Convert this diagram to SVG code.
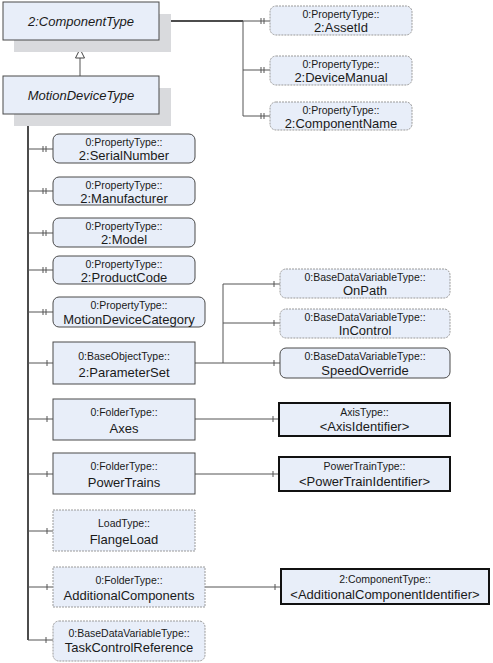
<svg xmlns="http://www.w3.org/2000/svg" width="493" height="663" viewBox="0 0 493 663">
<style>
text{font-family:"Liberation Sans",Arial,sans-serif;fill:#1a1a1a;text-anchor:middle}
.s{font-size:10.5px}
.l{font-size:13px}
.h{font-size:13px;font-style:italic}
.fill{fill:#e8eef9}
.dash{fill:#e8eef9;stroke:#9a9a9a;stroke-width:1;stroke-dasharray:2,1}
.solid{fill:#e8eef9;stroke:#4a4a4a;stroke-width:1}
.thick{fill:#e8eef9;stroke:#111;stroke-width:2}
.shadow{fill:#d9dadd}
.trunk{stroke:#111;stroke-width:1.5;fill:none}
.br{stroke:#555;stroke-width:1;fill:none}
.tk{stroke:#555;stroke-width:1}
</style>
<g id="connectors">
<path class="trunk" d="M28 114V640"/>
<path class="trunk" d="M159 21H243"/>
<path class="br" d="M243 21V116"/>
<path class="br" d="M243 21H270M243 70H270M243 116H270"/>
<path class="tk" d="M261 18v6M264 18v6M261 67v6M264 67v6M261 113v6M264 113v6"/>
<path class="br" d="M80 76V58"/>
<path d="M80 40L75.5 48H84.5Z M80 49L75.5 58H84.5Z" fill="#fff" stroke="#444" stroke-width="1"/>
<path class="br" d="M28 149H53M28 191H53M28 233H53M28 270H53M28 312H53M28 363H53M28 419H53M28 474H53M28 531H53M28 587H53M28 640H53"/>
<path class="tk" d="M43 146v6M46 146v6M43 188v6M46 188v6M43 230v6M46 230v6M43 267v6M46 267v6M43 309v6M46 309v6"/>
<path class="tk" d="M47 360v6M47 416v6M47 471v6M47 528v6M47 584v6M46 637v6"/>
<path class="br" d="M195 363H280M223 363V284H280M223 323H280"/>
<path class="tk" d="M274 281v6M274 320v6M274 360v6"/>
<path class="br" d="M195 419H279M195 474H279M205 587H281"/>
<path class="tk" d="M273 416v6M273 471v6M275 584v6"/>
</g>
<g id="ComponentType">
<rect class="shadow" x="14" y="14" width="157" height="38"/>
<rect class="solid" x="3" y="2" width="156" height="38"/>
<text class="h" x="81" y="26">2:ComponentType</text>
</g>
<g id="MotionDeviceType">
<rect class="shadow" x="14" y="88" width="157" height="38"/>
<rect class="solid" x="3" y="76" width="156" height="38"/>
<text class="h" x="81" y="100">MotionDeviceType</text>
</g>
<g id="AssetId">
<rect class="dash" x="270" y="6" width="142" height="29" rx="6"/>
<text class="s" x="341" y="18">0:PropertyType::</text>
<text class="l" x="341" y="32">2:AssetId</text>
</g>
<g id="DeviceManual">
<rect class="dash" x="270" y="56" width="142" height="29" rx="6"/>
<text class="s" x="341" y="68">0:PropertyType::</text>
<text class="l" x="341" y="82">2:DeviceManual</text>
</g>
<g id="ComponentName">
<rect class="dash" x="270" y="102" width="142" height="28" rx="6"/>
<text class="s" x="341" y="114">0:PropertyType::</text>
<text class="l" x="341" y="128">2:ComponentName</text>
</g>
<g id="SerialNumber">
<rect class="solid" x="53" y="134" width="142" height="29" rx="6"/>
<text class="s" x="124" y="146">0:PropertyType::</text>
<text class="l" x="124" y="160">2:SerialNumber</text>
</g>
<g id="Manufacturer">
<rect class="solid" x="53" y="177" width="142" height="28" rx="6"/>
<text class="s" x="124" y="189">0:PropertyType::</text>
<text class="l" x="124" y="203">2:Manufacturer</text>
</g>
<g id="Model">
<rect class="solid" x="53" y="218" width="142" height="29" rx="6"/>
<text class="s" x="124" y="230">0:PropertyType::</text>
<text class="l" x="124" y="244">2:Model</text>
</g>
<g id="ProductCode">
<rect class="solid" x="53" y="256" width="142" height="28" rx="6"/>
<text class="s" x="124" y="268">0:PropertyType::</text>
<text class="l" x="124" y="282">2:ProductCode</text>
</g>
<g id="MotionDeviceCategory">
<rect class="solid" x="53" y="297" width="152" height="30" rx="6"/>
<text class="s" x="129" y="309">0:PropertyType::</text>
<text class="l" x="129" y="324">MotionDeviceCategory</text>
</g>
<g id="ParameterSet">
<rect class="solid" x="53" y="342" width="142" height="42"/>
<text class="s" x="124" y="360">0:BaseObjectType::</text>
<text class="l" x="124" y="377">2:ParameterSet</text>
</g>
<g id="Axes">
<rect class="solid" x="53" y="399" width="142" height="41"/>
<text class="s" x="124" y="416">0:FolderType::</text>
<text class="l" x="124" y="433">Axes</text>
</g>
<g id="PowerTrains">
<rect class="solid" x="53" y="453" width="142" height="41"/>
<text class="s" x="124" y="470">0:FolderType::</text>
<text class="l" x="124" y="487">PowerTrains</text>
</g>
<g id="FlangeLoad">
<rect class="dash" x="53" y="510" width="142" height="41"/>
<text class="s" x="124" y="527">LoadType::</text>
<text class="l" x="124" y="544">FlangeLoad</text>
</g>
<g id="AdditionalComponents">
<rect class="dash" x="53" y="567" width="152" height="40"/>
<text class="s" x="129" y="584">0:FolderType::</text>
<text class="l" x="129" y="600">AdditionalComponents</text>
</g>
<g id="TaskControlReference">
<rect class="dash" x="53" y="621" width="152" height="40" rx="6"/>
<text class="s" x="129" y="637">0:BaseDataVariableType::</text>
<text class="l" x="129" y="652">TaskControlReference</text>
</g>
<g id="OnPath">
<rect class="dash" x="280" y="269" width="170" height="29" rx="6"/>
<text class="s" x="365" y="281">0:BaseDataVariableType::</text>
<text class="l" x="365" y="295">OnPath</text>
</g>
<g id="InControl">
<rect class="dash" x="280" y="309" width="170" height="29" rx="6"/>
<text class="s" x="365" y="321">0:BaseDataVariableType::</text>
<text class="l" x="365" y="335">InControl</text>
</g>
<g id="SpeedOverride">
<rect class="solid" x="280" y="348" width="170" height="30" rx="6"/>
<text class="s" x="365" y="360">0:BaseDataVariableType::</text>
<text class="l" x="365" y="375">SpeedOverride</text>
</g>
<g id="AxisIdentifier">
<rect class="thick" x="279" y="403" width="171" height="33"/>
<text class="s" x="364.5" y="416">AxisType::</text>
<text class="l" x="364.5" y="431">&lt;AxisIdentifier&gt;</text>
</g>
<g id="PowerTrainIdentifier">
<rect class="thick" x="279" y="457" width="171" height="34"/>
<text class="s" x="364.5" y="470">PowerTrainType::</text>
<text class="l" x="364.5" y="486">&lt;PowerTrainIdentifier&gt;</text>
</g>
<g id="AdditionalComponentIdentifier">
<rect class="thick" x="281" y="569" width="208" height="35"/>
<text class="s" x="385" y="583">2:ComponentType::</text>
<text class="l" x="385" y="599">&lt;AdditionalComponentIdentifier&gt;</text>
</g>
</svg>
